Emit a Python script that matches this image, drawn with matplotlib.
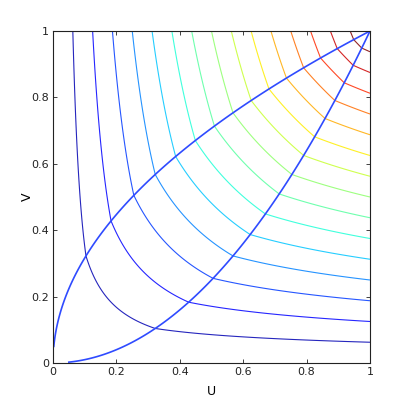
import numpy as np
import matplotlib
matplotlib.use('Agg')
import matplotlib.pyplot as plt

levels = [0.0625, 0.125, 0.1875, 0.25, 0.3125, 0.375, 0.4375, 0.5,
          0.5625, 0.625, 0.6875, 0.75, 0.8125, 0.875, 0.9375]
# exponent of the outer pieces, the inner piece follows from continuity
c_out = 0.45
d_mid = (2 + c_out) / 3
t_start = 0.05   # the two curves start here
ticks = [0, 0.2, 0.4, 0.6, 0.8, 1]
tick_labels = ['0', '0.2', '0.4', '0.6', '0.8', '1']

g = np.linspace(1e-4, 1, 401)
U, V = np.meshgrid(g, g)
Z = np.where(V >= np.sqrt(U), U * V ** c_out,
             np.where(V <= U ** 2, V * U ** c_out, (U * V) ** d_mid))

fig = plt.figure(figsize=(4.09, 4.09), dpi=100)
ax = fig.add_axes([0.1296, 0.1125, 0.775, 0.8117])

ax.contour(U, V, Z, levels=levels, cmap='jet', vmin=0.02, vmax=0.9375,
           linewidths=0.8, alpha=0.85)

# the two boundary curves
t = np.linspace(t_start, 1, 120)
ax.plot(t ** 2, t, color='#2f4bff', lw=1.2)
ax.plot(t, t ** 2, color='#2f4bff', lw=1.2)

ax.set_xlim(0, 1)
ax.set_ylim(0, 1)
ax.set_xticks(ticks)
ax.set_yticks(ticks)
ax.set_xticklabels(tick_labels)
ax.set_yticklabels(tick_labels)
ax.tick_params(direction='in', top=True, right=True, length=3, width=0.6,
               labelsize=8, colors='#222222', pad=3)
for s in ax.spines.values():
    s.set_linewidth(0.8)
    s.set_color('#222222')

ax.set_xlabel('U', fontsize=9, labelpad=6)
ax.set_ylabel('V', fontsize=9, labelpad=-2)

fig.savefig('out.png', dpi=100)
